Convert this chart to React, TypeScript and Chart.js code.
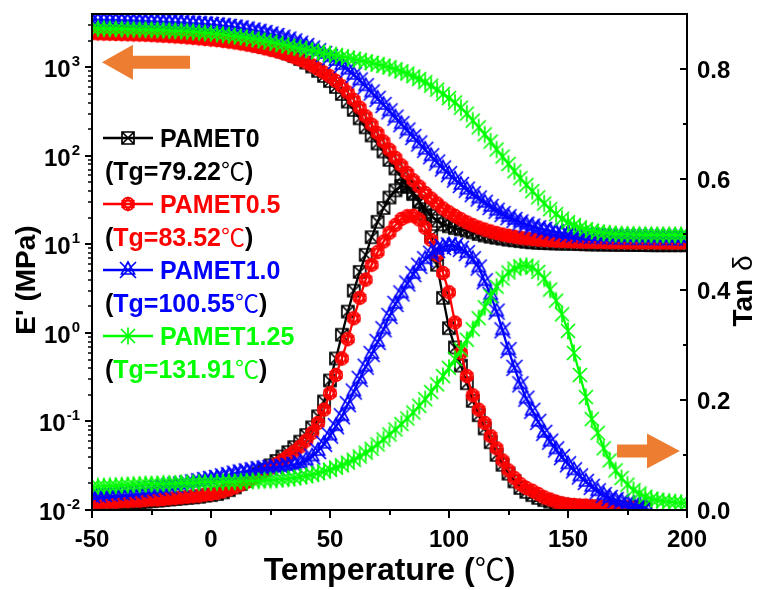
import React, { useEffect, useRef } from 'react';
import { Chart, registerables } from 'chart.js';

Chart.register(...registerables);

// ---------------- DATA ----------------
const temps = [
  -50, -47.5, -45, -42.5, -40, -37.5, -35, -32.5, -30, -27.5,
  -25, -22.5, -20, -17.5, -15, -12.5, -10, -7.5, -5, -2.5,
  0, 2.5, 5, 7.5, 10, 12.5, 15, 17.5, 20, 22.5,
  25, 27.5, 30, 32.5, 35, 37.5, 40, 42.5, 45, 47.5,
  50, 52.5, 55, 57.5, 60, 62.5, 65, 67.5, 70, 72.5,
  75, 77.5, 80, 82.5, 85, 87.5, 90, 92.5, 95, 97.5,
  100, 102.5, 105, 107.5, 110, 112.5, 115, 117.5, 120, 122.5,
  125, 127.5, 130, 132.5, 135, 137.5, 140, 142.5, 145, 147.5,
  150, 152.5, 155, 157.5, 160, 162.5, 165, 167.5, 170, 172.5,
  175, 177.5, 180, 182.5, 185, 187.5, 190, 192.5, 195, 197.5,
  200,
];

// Storage modulus E' (MPa)
const ePAMET0 = [
  2550, 2540, 2520, 2500, 2490, 2480, 2460, 2450, 2430, 2420,
  2400, 2380, 2360, 2340, 2320, 2300, 2270, 2250, 2220, 2190,
  2150, 2110, 2070, 2030, 1980, 1930, 1880, 1820, 1760, 1700,
  1650, 1580, 1510, 1430, 1340, 1240, 1130, 1020, 910, 800,
  700, 600, 500, 410, 330, 265, 210, 170, 138, 112,
  90, 72, 58, 46, 37, 30, 25, 21, 18.5, 16.8,
  16, 15.3, 14.8, 14.3, 13.7, 13.1, 12.6, 12.2, 11.9, 11.6,
  11.3, 11.1, 10.9, 10.7, 10.55, 10.45, 10.35, 10.3, 10.25, 10.2,
  10.2, 10.15, 10.1, 10.05, 10, 10, 9.95, 9.95, 9.9, 9.9,
  9.9, 9.85, 9.85, 9.85, 9.8, 9.8, 9.8, 9.8, 9.8, 9.8,
  9.8,
];
const ePAMET05 = [
  2420, 2410, 2400, 2390, 2380, 2370, 2360, 2350, 2340, 2330,
  2310, 2290, 2270, 2250, 2230, 2210, 2180, 2150, 2120, 2090,
  2060, 2030, 1990, 1950, 1910, 1860, 1810, 1760, 1700, 1640,
  1580, 1520, 1450, 1380, 1300, 1220, 1140, 1050, 960, 870,
  790, 700, 610, 520, 430, 350, 280, 225, 180, 145,
  117, 95, 78, 64, 53, 45, 38, 33, 29, 25.5,
  23, 21, 19.2, 17.7, 16.5, 15.5, 14.7, 14, 13.4, 12.9,
  12.5, 12.2, 11.9, 11.7, 11.5, 11.3, 11.2, 11.1, 11, 10.9,
  10.85, 10.8, 10.75, 10.7, 10.7, 10.65, 10.65, 10.6, 10.6, 10.6,
  10.55, 10.55, 10.55, 10.55, 10.55, 10.5, 10.5, 10.5, 10.5, 10.5,
  10.5,
];
const ePAMET10 = [
  3400, 3390, 3380, 3370, 3360, 3350, 3330, 3310, 3290, 3270,
  3250, 3230, 3210, 3190, 3170, 3150, 3120, 3090, 3060, 3030,
  3000, 2960, 2910, 2860, 2800, 2740, 2670, 2600, 2520, 2440,
  2350, 2260, 2160, 2060, 1960, 1850, 1740, 1630, 1520, 1410,
  1300, 1180, 1060, 940, 820, 710, 610, 520, 440, 375,
  318, 270, 228, 193, 163, 138, 117, 99, 84, 72,
  62, 54, 47, 41.5, 37, 33, 29.5, 26.5, 24, 22,
  20.3, 18.9, 17.7, 16.7, 15.9, 15.2, 14.6, 14.1, 13.7, 13.4,
  13.1, 12.9, 12.7, 12.6, 12.5, 12.4, 12.3, 12.25, 12.2, 12.15,
  12.1, 12.1, 12.05, 12.05, 12, 12, 12, 11.95, 11.95, 11.95,
  11.9,
];
const ePAMET125 = [
  2750, 2740, 2730, 2720, 2710, 2700, 2690, 2680, 2670, 2660,
  2650, 2640, 2620, 2600, 2580, 2560, 2540, 2510, 2480, 2450,
  2420, 2380, 2340, 2300, 2250, 2200, 2150, 2100, 2040, 1980,
  1920, 1860, 1800, 1740, 1690, 1640, 1590, 1540, 1490, 1440,
  1400, 1360, 1320, 1280, 1240, 1200, 1160, 1120, 1080, 1040,
  1000, 950, 900, 850, 790, 740, 680, 620, 560, 500,
  450, 400, 350, 300, 250, 210, 175, 145, 118, 98,
  81, 67, 56, 47, 40, 34, 29, 25, 22, 19.5,
  17.8, 16.5, 15.5, 14.8, 14.2, 13.8, 13.5, 13.3, 13.1, 13,
  12.95, 12.9, 12.9, 12.85, 12.85, 12.8, 12.8, 12.8, 12.8, 12.8,
  12.8,
];

// Tan delta
const tanPAMET0 = [
  0.010, 0.010, 0.011, 0.011, 0.012, 0.012, 0.013, 0.013, 0.014, 0.015,
  0.016, 0.017, 0.018, 0.019, 0.020, 0.021, 0.022, 0.023, 0.024, 0.026,
  0.027, 0.029, 0.032, 0.036, 0.041, 0.047, 0.053, 0.060, 0.066, 0.073,
  0.081, 0.089, 0.097, 0.105, 0.114, 0.124, 0.136, 0.150, 0.170, 0.197,
  0.235, 0.275, 0.318, 0.360, 0.398, 0.432, 0.463, 0.495, 0.523, 0.548,
  0.567, 0.580, 0.588, 0.586, 0.575, 0.560, 0.535, 0.497, 0.445, 0.385,
  0.330, 0.295, 0.262, 0.230, 0.198, 0.172, 0.148, 0.123, 0.100, 0.082,
  0.066, 0.052, 0.040, 0.033, 0.027, 0.022, 0.018, 0.015, 0.012, 0.010,
  0.009, 0.008, 0.007, 0.006, 0.006, 0.005, 0.005, 0.005, 0.004, 0.004,
  0.004, 0.004, 0.004, 0.004, null, null, null, null, null, null,
  null,
];
const tanPAMET05 = [
  0.014, 0.014, 0.015, 0.015, 0.015, 0.016, 0.016, 0.017, 0.017, 0.018,
  0.019, 0.019, 0.020, 0.021, 0.022, 0.023, 0.024, 0.025, 0.026, 0.028,
  0.029, 0.031, 0.034, 0.037, 0.041, 0.046, 0.051, 0.057, 0.063, 0.069,
  0.076, 0.083, 0.090, 0.098, 0.106, 0.115, 0.126, 0.140, 0.158, 0.182,
  0.212, 0.245, 0.275, 0.310, 0.348, 0.385, 0.418, 0.445, 0.468, 0.487,
  0.503, 0.517, 0.528, 0.533, 0.534, 0.527, 0.512, 0.490, 0.463, 0.430,
  0.395, 0.340, 0.285, 0.243, 0.208, 0.182, 0.158, 0.134, 0.112, 0.090,
  0.072, 0.058, 0.047, 0.040, 0.035, 0.029, 0.023, 0.019, 0.015, 0.012,
  0.010, 0.009, 0.008, 0.008, 0.007, 0.007, 0.006, 0.006, 0.006, 0.005,
  0.005, 0.005, null, null, null, null, null, null, null, null,
  null,
];
const tanPAMET10 = [
  0.027, 0.028, 0.029, 0.030, 0.031, 0.032, 0.033, 0.034, 0.036, 0.037,
  0.038, 0.040, 0.041, 0.043, 0.045, 0.046, 0.048, 0.050, 0.052, 0.054,
  0.056, 0.058, 0.061, 0.063, 0.066, 0.068, 0.070, 0.072, 0.074, 0.075,
  0.076, 0.077, 0.078, 0.080, 0.082, 0.085, 0.090, 0.097, 0.107, 0.120,
  0.135, 0.152, 0.170, 0.192, 0.215, 0.238, 0.260, 0.283, 0.305, 0.328,
  0.352, 0.374, 0.393, 0.411, 0.428, 0.443, 0.455, 0.465, 0.472, 0.477,
  0.480, 0.479, 0.474, 0.466, 0.455, 0.440, 0.415, 0.390, 0.360, 0.326,
  0.290, 0.258, 0.228, 0.202, 0.180, 0.160, 0.140, 0.124, 0.110, 0.096,
  0.083, 0.072, 0.061, 0.051, 0.042, 0.034, 0.027, 0.022, 0.018, 0.015,
  0.012, 0.010, 0.008, 0.007, null, null, null, null, null, null,
  null,
];
const tanPAMET125 = [
  0.042, 0.043, 0.043, 0.044, 0.044, 0.045, 0.045, 0.046, 0.046, 0.047,
  0.047, 0.047, 0.048, 0.048, 0.048, 0.049, 0.049, 0.049, 0.050, 0.050,
  0.050, 0.050, 0.051, 0.051, 0.051, 0.052, 0.052, 0.053, 0.053, 0.054,
  0.054, 0.055, 0.056, 0.057, 0.058, 0.060, 0.062, 0.064, 0.067, 0.070,
  0.073, 0.077, 0.081, 0.086, 0.091, 0.097, 0.104, 0.111, 0.119, 0.128,
  0.137, 0.146, 0.156, 0.166, 0.177, 0.189, 0.201, 0.214, 0.228, 0.243,
  0.258, 0.274, 0.291, 0.309, 0.328, 0.348, 0.368, 0.388, 0.405, 0.420,
  0.431, 0.438, 0.442, 0.443, 0.440, 0.432, 0.420, 0.400, 0.380, 0.355,
  0.325, 0.285, 0.245, 0.205, 0.165, 0.140, 0.112, 0.090, 0.072, 0.058,
  0.046, 0.036, 0.030, 0.024, 0.020, 0.018, 0.016, 0.015, 0.014, 0.013,
  0.012,
];

const seriesNames = ['PAMET0', 'PAMET0.5', 'PAMET1.0', 'PAMET1.25'];
const tgLabels = ['Tg=79.22', 'Tg=83.52', 'Tg=100.55', 'Tg=131.91'];
const seriesColors = ['#000000', '#FF0000', '#0000FF', '#00FF00'];
const markerKinds = ['sqx', 'cstar', 'trix', 'ast'];
const storageSeries = [ePAMET0, ePAMET05, ePAMET10, ePAMET125];
const tanSeries = [tanPAMET0, tanPAMET05, tanPAMET10, tanPAMET125];

const xTickValues = [-50, -25, 0, 25, 50, 75, 100, 125, 150, 175, 200];
const xTickLabels = ['-50', '', '0', '', '50', '', '100', '', '150', '', '200'];
const leftExponents = [-2, -1, 0, 1, 2, 3];
const rightTickValues = [0, 0.1, 0.2, 0.3, 0.4, 0.5, 0.6, 0.7, 0.8];
const rightTickLabels = ['0.0', '', '0.2', '', '0.4', '', '0.6', '', '0.8'];

// arrows (data coordinates): tail, head base and tip temperatures, value on their axis
const leftArrow = { tail: -8.8, headBase: -32.8, tip: -45.8, value: 1140 };
const rightArrow = { tail: 170.6, headBase: 183.2, tip: 197, value: 0.107 };

// ---------------- STYLE ----------------
const SANS = '"Liberation Sans", Arial, Helvetica, sans-serif';
const CJK = '"Noto Sans CJK SC", "Noto Sans CJK JP", sans-serif';
const ORANGE = '#ED7D31';

function makeMarker(kind: string, color: string): HTMLCanvasElement {
  const c = document.createElement('canvas');
  c.width = 22;
  c.height = 22;
  const g = c.getContext('2d')!;
  g.strokeStyle = color;
  g.lineWidth = 1.7;
  g.lineJoin = 'miter';
  const m = 11;
  g.beginPath();
  if (kind === 'sqx') {
    const h = 6;
    g.rect(m - h, m - h, 2 * h, 2 * h);
    g.moveTo(m - h, m - h); g.lineTo(m + h, m + h);
    g.moveTo(m + h, m - h); g.lineTo(m - h, m + h);
  } else if (kind === 'cstar') {
    const r = 6.3;
    g.arc(m, m, r, 0, Math.PI * 2);
    const dx = r * 0.866, dy = r * 0.5;
    g.moveTo(m, m - r); g.lineTo(m - dx, m + dy); g.lineTo(m + dx, m + dy); g.closePath();
    g.moveTo(m, m + r); g.lineTo(m - dx, m - dy); g.lineTo(m + dx, m - dy); g.closePath();
  } else if (kind === 'trix') {
    const h = 8;
    g.moveTo(m - h, m - h); g.lineTo(m + h, m + h);
    g.moveTo(m + h, m - h); g.lineTo(m - h, m + h);
    g.moveTo(m, m - h); g.lineTo(m - 6.5, m + 4); g.lineTo(m + 6.5, m + 4); g.closePath();
  } else {
    const h = 7;
    g.moveTo(m - h, m - h); g.lineTo(m + h, m + h);
    g.moveTo(m + h, m - h); g.lineTo(m - h, m + h);
    g.moveTo(m, m - 8.5); g.lineTo(m, m + 8.5);
  }
  g.stroke();
  return c;
}

type Seg = [string, string, string];
function drawSegs(ctx: CanvasRenderingContext2D, segs: Seg[], x: number, y: number, align: 'left' | 'center') {
  let total = 0;
  for (const [t, , f] of segs) { ctx.font = f; total += ctx.measureText(t).width; }
  let cx = align === 'center' ? x - total / 2 : x;
  ctx.textAlign = 'left';
  for (const [t, col, f] of segs) {
    ctx.font = f;
    ctx.fillStyle = col;
    ctx.fillText(t, cx, y);
    cx += ctx.measureText(t).width;
  }
}

function drawArrow(ctx: CanvasRenderingContext2D, xTail: number, xBase: number, xTip: number, y: number) {
  const sh = 6.5, hh = 17.5;
  ctx.beginPath();
  ctx.moveTo(xTail, y - sh);
  ctx.lineTo(xBase, y - sh);
  ctx.lineTo(xBase, y - hh);
  ctx.lineTo(xTip, y);
  ctx.lineTo(xBase, y + hh);
  ctx.lineTo(xBase, y + sh);
  ctx.lineTo(xTail, y + sh);
  ctx.closePath();
  ctx.fillStyle = ORANGE;
  ctx.fill();
}

export default function App() {
  const ref = useRef<HTMLCanvasElement | null>(null);

  useEffect(() => {
    const canvas = ref.current;
    if (!canvas) return;
    const markers = seriesColors.map((col, i) => makeMarker(markerKinds[i], col));
    const pts = (ys: (number | null)[]) => temps.map((t, i) => ({ x: t, y: ys[i] }));

    const datasets: any[] = [];
    seriesNames.forEach((name, i) => {
      const common = {
        borderColor: seriesColors[i],
        backgroundColor: seriesColors[i],
        borderWidth: 2.3,
        pointStyle: markers[i],
        pointRadius: 7,
        order: 4 - i,
        spanGaps: false,
        tension: 0,
      };
      datasets.push({ label: name + " E'", data: pts(storageSeries[i]), yAxisID: 'y', ...common });
      datasets.push({ label: name + ' tan', data: pts(tanSeries[i]), yAxisID: 'y1', ...common });
    });

    const decor = {
      id: 'decor',
      afterDatasetsDraw(chart: any) {
        const { ctx, chartArea: a, scales } = chart;
        const sx = scales.x, sy = scales.y, sr = scales.y1;
        ctx.save();
        ctx.fillStyle = '#000';
        ctx.strokeStyle = '#000';
        ctx.lineWidth = 2;
        ctx.lineCap = 'butt';
        ctx.strokeRect(a.left, a.top, a.right - a.left, a.bottom - a.top);

        // bottom axis
        ctx.font = 'bold 24px ' + SANS;
        ctx.textBaseline = 'alphabetic';
        xTickValues.forEach((v, i) => {
          const px = Math.round(sx.getPixelForValue(v));
          const major = xTickLabels[i] !== '';
          ctx.beginPath();
          ctx.moveTo(px, a.bottom);
          ctx.lineTo(px, a.bottom + (major ? 8 : 5));
          ctx.stroke();
          if (major) {
            ctx.textAlign = 'center';
            ctx.fillStyle = '#000';
            ctx.fillText(xTickLabels[i], px, a.bottom + 37);
          }
        });

        // left log axis
        ctx.lineWidth = 1.5;
        for (let e = -2; e <= 3; e++) {
          for (let m = 2; m <= 9; m++) {
            const v = m * Math.pow(10, e);
            if (v >= 4000) continue;
            const py = Math.round(sy.getPixelForValue(v));
            ctx.beginPath();
            ctx.moveTo(a.left - 4, py);
            ctx.lineTo(a.left, py);
            ctx.stroke();
          }
        }
        ctx.lineWidth = 2;
        leftExponents.forEach((e) => {
          const py = Math.round(sy.getPixelForValue(Math.pow(10, e)));
          ctx.beginPath();
          ctx.moveTo(a.left - 7, py);
          ctx.lineTo(a.left, py);
          ctx.stroke();
          const sup = String(e);
          ctx.font = 'bold 15px ' + SANS;
          const sw = ctx.measureText(sup).width;
          ctx.font = 'bold 24px ' + SANS;
          const bw = ctx.measureText('10').width;
          const right = a.left - 12;
          ctx.textAlign = 'left';
          ctx.fillStyle = '#000';
          ctx.fillText('10', right - sw - 1 - bw, py + 10);
          ctx.font = 'bold 15px ' + SANS;
          ctx.fillText(sup, right - sw, py - 1);
        });

        // right axis
        ctx.font = 'bold 24px ' + SANS;
        rightTickValues.forEach((v, i) => {
          const py = Math.round(sr.getPixelForValue(v));
          const major = rightTickLabels[i] !== '';
          ctx.beginPath();
          ctx.moveTo(a.right, py);
          ctx.lineTo(a.right - (major ? 7 : 4), py);
          ctx.stroke();
          if (major) {
            ctx.textAlign = 'left';
            ctx.fillStyle = '#000';
            ctx.fillText(rightTickLabels[i], a.right + 10, py + 8.5);
          }
        });

        // axis titles
        const midY = (a.top + a.bottom) / 2;
        ctx.save();
        ctx.translate(a.left - 57, midY + 18);
        ctx.rotate(-Math.PI / 2);
        ctx.textAlign = 'center';
        ctx.font = 'bold 28px ' + SANS;
        ctx.fillStyle = '#000';
        ctx.fillText("E' (MPa)", 0, 0);
        ctx.restore();

        ctx.save();
        ctx.translate(a.right + 65, midY + 29);
        ctx.rotate(-Math.PI / 2);
        drawSegs(ctx, [['Tan ', '#000', 'bold 28px ' + SANS], ['\u03b4', '#000', '28px ' + SANS]], 0, 0, 'center');
        ctx.restore();

        drawSegs(
          ctx,
          [['Temperature (', '#000', 'bold 32px ' + SANS], ['\u2103', '#000', '30px ' + CJK], [')', '#000', 'bold 32px ' + SANS]],
          (a.left + a.right) / 2,
          a.bottom + 70,
          'center'
        );

        // legend
        const lx = a.left + 11;
        seriesNames.forEach((name, i) => {
          const yName = a.top + 124 + 66 * i;
          const yTg = yName + 33;
          const col = seriesColors[i];
          ctx.strokeStyle = col;
          ctx.lineWidth = 2.6;
          ctx.beginPath();
          ctx.moveTo(lx, yName);
          ctx.lineTo(lx + 50, yName);
          ctx.stroke();
          const mk = markers[i];
          ctx.drawImage(mk, lx + 25 - mk.width / 2, yName - mk.height / 2);
          drawSegs(ctx, [[name, col, 'bold 25px ' + SANS]], lx + 57, yName + 9, 'left');
          drawSegs(
            ctx,
            [
              ['(', '#000', 'bold 25px ' + SANS],
              [tgLabels[i], col, 'bold 25px ' + SANS],
              ['\u2103', col, '24px ' + CJK],
              [')', '#000', 'bold 25px ' + SANS],
            ],
            lx + 2,
            yTg + 9,
            'left'
          );
        });

        // arrows
        drawArrow(
          ctx,
          sx.getPixelForValue(leftArrow.tail),
          sx.getPixelForValue(leftArrow.headBase),
          sx.getPixelForValue(leftArrow.tip),
          sy.getPixelForValue(leftArrow.value)
        );
        drawArrow(
          ctx,
          sx.getPixelForValue(rightArrow.tail),
          sx.getPixelForValue(rightArrow.headBase),
          sx.getPixelForValue(rightArrow.tip),
          sr.getPixelForValue(rightArrow.value)
        );
        ctx.restore();
      },
    };

    const hidden = {
      ticks: { display: false },
      grid: { display: false },
      border: { display: false },
    };

    const chart = new Chart(canvas, {
      type: 'line',
      data: { datasets },
      options: {
        responsive: false,
        animation: false,
        devicePixelRatio: 1,
        events: [],
        layout: { padding: { top: 14, left: 0, right: 0, bottom: 0 } },
        plugins: { legend: { display: false }, tooltip: { enabled: false } },
        scales: {
          x: {
            type: 'linear',
            position: 'bottom',
            min: -50,
            max: 200,
            ...hidden,
            afterFit: (s: any) => { s.height = 80; },
          },
          y: {
            type: 'logarithmic',
            position: 'left',
            min: 0.01,
            max: 4000,
            ...hidden,
            afterFit: (s: any) => { s.width = 92; },
          },
          y1: {
            type: 'linear',
            position: 'right',
            min: 0,
            max: 0.9,
            ...hidden,
            afterFit: (s: any) => { s.width = 73; },
          },
        },
      } as any,
      plugins: [decor],
    });

    return () => chart.destroy();
  }, []);

  return (
    <div style={{ position: 'absolute', left: 0, top: 0, width: 760, height: 590, background: '#fff' }}>
      <canvas ref={ref} width={760} height={590} style={{ display: 'block' }} />
    </div>
  );
}
